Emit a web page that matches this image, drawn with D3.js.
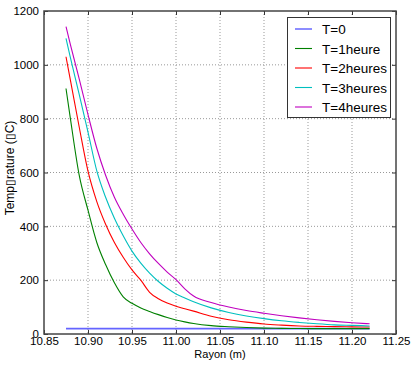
<!DOCTYPE html>
<html>
<head>
<meta charset="utf-8">
<script src="https://cdn.jsdelivr.net/npm/d3@7/dist/d3.min.js"></script>
<style>
  body { margin: 0; background: #fff; }
  svg text { font-family: "Liberation Sans", Arial, sans-serif; fill: #000; }
</style>
</head>
<body>
<div id="vis"></div>
<script>
// radius samples (m)
var rayon = [10.875, 10.88, 10.89, 10.90, 10.91, 10.92, 10.93, 10.94, 10.95, 10.96, 10.97,
             10.98, 10.99, 11.00, 11.01, 11.02, 11.04, 11.06, 11.08, 11.10, 11.12, 11.14,
             11.16, 11.18, 11.20, 11.22];

var t0 = [20, 20, 20, 20, 20, 20, 20, 20, 20, 20, 20, 20, 20, 20, 20, 20, 20, 20, 20, 20,
          20, 20, 20, 20, 20, 20];
var t1 = [912, 800, 590, 460, 340, 258, 190, 138, 114, 97, 84, 72, 61, 52, 45, 39, 31, 27,
          24, 22, 21, 20.5, 20, 20, 20, 20];
var t2 = [1030, 943, 769, 605, 492, 408, 340, 285, 238, 200, 155, 131, 115, 103, 94, 85,
          66, 53, 44, 37, 33, 30, 28.5, 27.5, 26.5, 26];
var t3 = [1098, 1027, 890, 750, 606, 508, 430, 365, 308, 263, 226, 195, 170, 149, 134, 120,
          97, 80, 67, 57, 49, 43, 38, 34, 32, 30];
var t4 = [1142, 1075, 948, 815, 690, 590, 508, 445, 390, 340, 298, 262, 230, 202, 168, 141,
          117, 100, 87, 77, 68, 60, 53, 47, 42, 38];

var seriesNames = ["T=0", "T=1heure", "T=2heures", "T=3heures", "T=4heures"];
var seriesValues = [t0, t1, t2, t3, t4];
var seriesColors = ["#3030ff", "#008000", "#ff0000", "#00bfbf", "#bf00bf"];

var xTicks = [10.85, 10.90, 10.95, 11.00, 11.05, 11.10, 11.15, 11.20, 11.25];
var yTicks = [0, 200, 400, 600, 800, 1000, 1200];

var W = 414, H = 367;
var margin = { left: 44, right: 18, top: 11, bottom: 33 };

var svg = d3.select("#vis").append("svg")
    .attr("width", W)
    .attr("height", H);

var x = d3.scaleLinear()
    .domain([10.85, 11.25])
    .range([margin.left, W - margin.right]);

var y = d3.scaleLinear()
    .domain([0, 1200])
    .range([H - margin.bottom, margin.top]);

var plotW = W - margin.right - margin.left;
var plotH = H - margin.bottom - margin.top;

// grid
var grid = svg.append("g");
grid.selectAll("line.gx")
    .data(xTicks.slice(1, -1))
    .enter().append("line")
    .attr("x1", function(d) { return x(d); })
    .attr("x2", function(d) { return x(d); })
    .attr("y1", margin.top)
    .attr("y2", H - margin.bottom)
    .attr("stroke", "#999")
    .attr("stroke-dasharray", "1,2");
grid.selectAll("line.gy")
    .data(yTicks.slice(1, -1))
    .enter().append("line")
    .attr("y1", function(d) { return y(d); })
    .attr("y2", function(d) { return y(d); })
    .attr("x1", margin.left)
    .attr("x2", W - margin.right)
    .attr("stroke", "#999")
    .attr("stroke-dasharray", "1,2");

// lines
var line = d3.line()
    .curve(d3.curveMonotoneX)
    .x(function(d, i) { return x(rayon[i]); })
    .y(function(d) { return y(d); });

svg.selectAll("path.serie")
    .data(seriesValues)
    .enter().append("path")
    .attr("class", "serie")
    .attr("d", line)
    .attr("fill", "none")
    .attr("stroke", function(d, i) { return seriesColors[i]; })
    .attr("stroke-width", function(d, i) { return i === 0 ? 1.6 : 1.1; })
    .attr("stroke-opacity", function(d, i) { return i === 0 ? 0.75 : 1; });

// axes with inward ticks
var xAxis = d3.axisBottom(x).tickValues(xTicks).tickFormat(d3.format(".2f"))
    .tickSizeInner(-4).tickSizeOuter(0).tickPadding(3);
var yAxis = d3.axisLeft(y).tickValues(yTicks).tickFormat(d3.format("d"))
    .tickSizeInner(-4).tickSizeOuter(0).tickPadding(5);
var xAxisTop = d3.axisTop(x).tickValues(xTicks).tickFormat("")
    .tickSizeInner(-4).tickSizeOuter(0);
var yAxisRight = d3.axisRight(y).tickValues(yTicks).tickFormat("")
    .tickSizeInner(-4).tickSizeOuter(0);

function styleAxis(g) {
    g.select(".domain").remove();
    g.selectAll(".tick line").attr("stroke", "#333");
    g.selectAll("text").attr("font-size", "11.5px")
        .attr("font-family", "Liberation Sans, Arial, sans-serif").attr("fill", "#000");
}

svg.append("g").attr("transform", "translate(0," + (H - margin.bottom) + ")")
    .call(xAxis).call(styleAxis);
svg.append("g").attr("transform", "translate(" + margin.left + ",0)")
    .call(yAxis).call(styleAxis);
svg.append("g").attr("transform", "translate(0," + margin.top + ")")
    .call(xAxisTop).call(styleAxis);
svg.append("g").attr("transform", "translate(" + (W - margin.right) + ",0)")
    .call(yAxisRight).call(styleAxis);

// frame
svg.append("rect")
    .attr("x", margin.left)
    .attr("y", margin.top)
    .attr("width", plotW)
    .attr("height", plotH)
    .attr("fill", "none")
    .attr("stroke", "#444")
    .attr("stroke-width", 1.5);

// axis labels
svg.append("text")
    .attr("x", x(11.05))
    .attr("y", H - 9)
    .attr("text-anchor", "middle")
    .attr("font-size", "11px")
    .text("Rayon (m)");

svg.append("text")
    .attr("transform", "translate(14," + 168 + ") rotate(-90)")
    .attr("text-anchor", "middle")
    .attr("font-size", "12px")
    .text("Temp\u25AFrature (\u25AFC)");

// legend
var legend = svg.append("g");
legend.append("rect")
    .attr("x", 287.5)
    .attr("y", 17.5)
    .attr("width", 103)
    .attr("height", 100)
    .attr("fill", "#fff")
    .attr("stroke", "#333")
    .attr("stroke-width", 1);

var items = legend.selectAll("g.item")
    .data(seriesNames)
    .enter().append("g")
    .attr("transform", function(d, i) { return "translate(0," + (29 + i * 19.5) + ")"; });
items.append("line")
    .attr("x1", 295).attr("x2", 312)
    .attr("y1", 0).attr("y2", 0)
    .attr("stroke", function(d, i) { return seriesColors[i]; })
    .attr("stroke-width", 1.1);
items.append("text")
    .attr("x", 322)
    .attr("y", 5)
    .attr("font-size", "13.5px")
    .text(function(d) { return d; });
</script>
</body>
</html>
